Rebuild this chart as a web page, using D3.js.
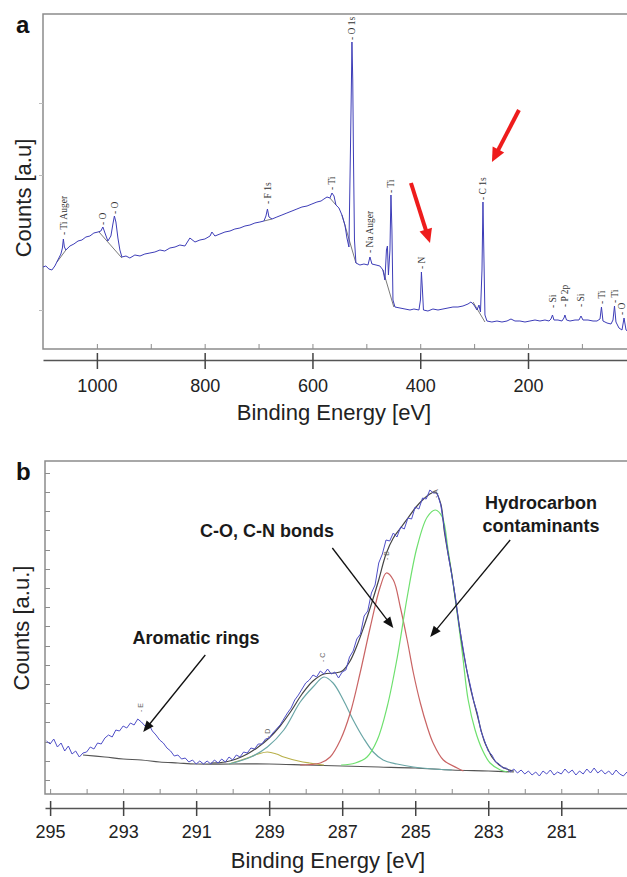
<!DOCTYPE html>
<html>
<head>
<meta charset="utf-8">
<script src="https://cdn.jsdelivr.net/npm/d3@7"></script>
<style>
  body { margin: 0; background: #fff; }
  svg { display: block; font-family: Arial, "Liberation Sans", sans-serif; }
</style>
</head>
<body>
<svg id="chart" width="627" height="877"></svg>
<script>
// ---- panel a : survey spectrum ----
const surveyE = [1100,1094.7,1089,1083.5,1078,1072.4,1066.8,1064,1062.2,1060.3,1057.5,1050,1042.7,1035,1027.8,1020.4,1013,1005.6,998,992.6,
  988.9,985,979.6,974,970.3,967.5,964.7,961,957.3,953.6,946,938.8,929.5,920,911,901.6,892.4,883,874,864.5,
  855,846,836.7,827.4,818,808.8,799.6,790,786.6,781,771.7,762.4,753,744,734.6,725.3,716,706.8,697.5,690,
  686.3,683.5,680.7,675,666,656.6,647.4,638,628.8,619.5,610,601,591.7,584,578.7,573,567.6,563.8,560,556.4,
  550.8,545.3,539.7,536,532.3,529.5,527.6,526.7,525.2,524,522,519.3,511.9,504.4,497,493.3,489.6,482,474.8,469.2,
  465.5,462.7,460.9,459,456.2,454.3,452.5,450.6,446.9,437.6,428.3,419,411.7,402.4,399.6,397.8,395.9,394,385.7,376.4,
  367,357.8,348.5,339.3,330,320.7,311.4,305.9,300.3,294.7,291,288.2,285.4,283.6,281.7,279.9,276.2,267,257.6,248.3,
  239,231.6,224.2,215,205.6,196.4,187,177.8,168.5,161,157.4,154.6,151.8,144.4,137,133.3,131.5,128.6,122.1,112.8,
  105.4,101.7,98,88.7,79.4,72,66.4,63.7,60.9,53.4,46,42.3,39.5,36.8,31.2,25.6,21.8,18.1,10.7];
const surveyC = [82,83,80,79,83,89,95,101,110,102,99,103,105,108,109,112,113,116,117,118,
  122,116,108,113,125,133,127,111,99,92,93,91,94,93,95,96,97,99,98,101,
  102,104,103,111,107,109,110,113,117,113,115,117,118,120,121,123,124,126,127,128,
  133,140,132,130,132,134,136,138,140,142,143,145,147,148,150,152,151,156,153,144,
  141,134,124,111,102,199,269,307,269,199,109,86,84,85,84,92,85,84,83,79,
  69,99,103,74,99,154,119,49,42,41,40,39,40,39,49,77,59,39,38,40,
  39,40,41,42,42,43,45,47,44,39,44,37,79,147,89,34,28,27,28,27,
  28,30,28,28,27,28,29,28,29,28,30,34,29,29,28,31,34,29,28,29,
  29,33,29,29,28,28,30,42,28,26,25,29,43,27,21,19,31,19,16];
// fitted background segments under the peaks
const surveyBg = [
  [[1074, 87], [1057.5, 99]],
  [[996, 117], [953.6, 91]],
  [[690, 128], [675, 130]],
  [[567.6, 151], [556.4, 144]],
  [[545.3, 134], [519.3, 86]],
  [[469.2, 79], [449, 42]],
  [[302, 47], [279.9, 27]]
];
const surveyPeaks = [
  { name: "Ti Auger", e: 1062.2, c: 114 },
  { name: "O", e: 988.9, c: 124 },
  { name: "O", e: 967.5, c: 135 },
  { name: "F 1s", e: 683.5, c: 145 },
  { name: "Ti", e: 563.8, c: 159 },
  { name: "O 1s", e: 526.7, c: 309 },
  { name: "Na Auger", e: 493.3, c: 96 },
  { name: "Ti", e: 454.3, c: 156 },
  { name: "N", e: 397.8, c: 80 },
  { name: "C 1s", e: 283.6, c: 149 },
  { name: "Si", e: 154.6, c: 41 },
  { name: "P 2p", e: 131.5, c: 42 },
  { name: "Si", e: 101.7, c: 42 },
  { name: "Ti", e: 63.7, c: 45 },
  { name: "Ti", e: 39.5, c: 46 },
  { name: "O", e: 27, c: 34 }
];
const surveyTicks = [1000, 800, 600, 400, 200];
const surveyMinorTicks = [1000, 900, 800, 700, 600, 500, 400, 300, 200, 100];
const surveyYTicks = [39, 174, 246];

// ---- panel b : C 1s high resolution ----
const c1sE = [295.1,295.0,294.9,294.8,294.7,294.6,294.5,294.4,294.3,294.2,
  294.1,294.0,293.9,293.8,293.7,293.6,293.5,293.4,293.3,293.2,
  293.1,293.0,292.9,292.8,292.7,292.6,292.5,292.4,292.3,292.2,
  292.1,292.0,291.9,291.8,291.7,291.6,291.5,291.4,291.3,291.2,
  291.1,291.0,290.9,290.8,290.7,290.6,290.5,290.4,290.3,290.2,
  290.1,290.0,289.9,289.8,289.7,289.6,289.5,289.4,289.3,289.2,
  289.1,289.0,288.9,288.8,288.7,288.6,288.5,288.4,288.3,288.2,
  288.1,288.0,287.9,287.8,287.7,287.6,287.5,287.4,287.3,287.2,
  287.1,287.0,286.9,286.8,286.7,286.6,286.5,286.4,286.3,286.2,
  286.1,286.0,285.9,285.8,285.7,285.6,285.5,285.4,285.3,285.2,
  285.1,285.0,284.9,284.8,284.7,284.6,284.5,284.4,284.3,284.2,
  284.1,284.0,283.9,283.8,283.7,283.6,283.5,283.4,283.3,283.2,
  283.1,283.0,282.9,282.8,282.7,282.6,282.5,282.4,282.3,282.2,
  282.1,282.0,281.9,281.8,281.7,281.6,281.5,281.4,281.3,281.2,
  281.1,281.0,280.9,280.8,280.7,280.6,280.5,280.4,280.3,280.2,
  280.1,280.0,279.9,279.8,279.7,279.6,279.5,279.4,279.3,279.2];
const c1sC = [53,50,55,47,51,43,48,40,43,37,
  41,42,47,45,51,50,56,59,57,64,
  63,68,66,71,69,75,72,68,70,63,
  59,54,51,46,43,38,39,35,36,32,
  34,30,33,30,33,30,34,31,35,32,
  37,34,39,37,42,41,46,45,50,50,
  55,56,61,65,69,75,81,86,94,99,
  105,111,114,119,117,123,120,125,120,122,
  116,122,124,137,143,155,160,178,183,201,
  209,231,240,254,253,261,257,267,265,276,
  275,287,285,296,295,304,301,301,289,265,
  240,219,197,169,148,126,110,93,81,63,
  53,43,39,32,30,26,26,22,25,21,
  24,20,23,19,22,18,23,20,24,19,
  22,20,25,21,24,19,23,20,25,21,
  26,21,24,20,23,19,24,20,18,22];
const backgroundE = [294.1,293.5,293.0,292.5,292.0,291.5,291.0,290.0,289.0,288.0,287.0,286.0,285.0,284.0,283.0,282.3];
const backgroundC = [39,37,35,34,32,31,30,30,30,29,28,27,26,24,23,22];
const envelopeE = [290.6,290.2,289.9,289.6,289.3,289.0,288.7,288.4,288.1,287.8,287.5,287.2,287.0,286.8,286.6,286.4,286.2,286.0,
  285.8,285.6,285.4,285.2,285.0,284.8,284.6,284.45,284.3,284.2,284.1,284.0,283.9,283.8,283.7,283.6,283.5,283.4,283.3,283.2,
  283.1,283.0,282.9,282.7,282.5,282.3];
const envelopeC = [31,32,35,40,47,56,68,83,100,113,120,121,123,132,148,168,190,214,
  240,256,266,276,286,294,300,302,290,262,240,220,195,170,146,126,108,93,79,64,
  52,44,37,29,25,23];
// component A : hydrocarbon (green)
const peakAE = [287.03,286.64,286.32,286.04,285.77,285.49,285.22,284.95,284.67,284.45,284.26,284.1,283.9,283.71,283.55,283.36,283.16,282.95,282.67,282.48];
const peakAC = [29,31,37,54,87,137,197,247,277,284,277,244,194,141,94,64,44,31,24,22];
// component B : C-O / C-N (red)
const peakBE = [288.15,287.6,287.33,287.05,286.78,286.51,286.23,285.96,285.79,285.6,285.41,285.22,285.05,284.86,284.67,284.51,284.23,283.85,283.68];
const peakBC = [29,31,37,54,81,121,167,207,221,214,187,154,121,91,67,51,34,26,23];
// component C (teal)
const peakCE = [290.1,289.5,289.05,288.6,288.15,287.8,287.5,287.25,286.97,286.7,286.42,286.15,285.88,285.5,285.05,284.5,284.0];
const peakCC = [30,37,47,64,92,107,117,111,94,74,56,42,34,30,27,25,24];
// component D (olive)
const peakDE = [290.1,289.6,289.3,289.05,288.8,288.6,288.2,287.9,287.5];
const peakDC = [30,36,40,42,40,37,33,31,29];
const peakLetters = [
  { t: "E", e: 292.53, c: 82 },
  { t: "D", e: 289.05, c: 56 },
  { t: "C", e: 287.55, c: 132 },
  { t: "B", e: 285.79, c: 234 },
  { t: "A", e: 284.45, c: 296 }
];
const c1sTicks = [295, 293, 291, 289, 287, 285, 283, 281];
const c1sMinorTicks = [295, 294, 293, 292, 291, 290, 289, 288, 287, 286, 285, 284, 283, 282, 281, 280];
const c1sYTicks = [14, 33, 52, 72, 91, 110, 129, 148, 168, 187, 206, 225, 244, 264, 283, 302, 321];

const svg = d3.select('#chart');
const frameColor = '#8c8c8c';
const textColor = '#222';

// draws an arrow with a filled triangular head
function arrow(g, p1, p2, color, width, headLen, headW) {
  const dx = p2[0] - p1[0], dy = p2[1] - p1[1];
  const len = Math.hypot(dx, dy), ux = dx / len, uy = dy / len;
  const bx = p2[0] - ux * headLen, by = p2[1] - uy * headLen;
  g.append('line')
    .attr('x1', p1[0]).attr('y1', p1[1])
    .attr('x2', bx + ux * 2).attr('y2', by + uy * 2)
    .attr('stroke', color).attr('stroke-width', width);
  g.append('path')
    .attr('d', `M${p2[0]},${p2[1]}L${bx - uy * headW / 2},${by + ux * headW / 2}L${bx + uy * headW / 2},${by - ux * headW / 2}Z`)
    .attr('fill', color);
}

// ================= panel a =================
const xa = d3.scaleLinear().domain([1100, 10]).range([43, 630.4]);
const ya = d3.scaleLinear().domain([0, 335]).range([349, 14]);
const ga = svg.append('g');

ga.append('path').attr('d', 'M627,14H43V349H627')
  .attr('fill', 'none').attr('stroke', frameColor).attr('stroke-width', 1.5);

// inward ticks on the frame bottom
const aMinor = ga.append('g').attr('transform', 'translate(0,349)')
  .call(d3.axisBottom(xa).tickValues(surveyMinorTicks).tickSize(-5).tickFormat(''));
aMinor.select('.domain').remove();
aMinor.selectAll('line').attr('stroke', frameColor);

const aLeft = ga.append('g').attr('transform', 'translate(43,0)')
  .call(d3.axisLeft(ya).tickValues(surveyYTicks).tickSize(4).tickFormat(''));
aLeft.select('.domain').remove();
aLeft.selectAll('line').attr('stroke', '#bbb');

// detached axis with labels
const aAxis = ga.append('g').attr('transform', 'translate(0,360)')
  .call(d3.axisBottom(xa).tickValues(surveyTicks).tickSize(9).tickSizeOuter(0).tickPadding(10).tickFormat(d3.format('d')));
aAxis.select('.domain').attr('stroke', '#555').attr('stroke-width', 1.5);
aAxis.selectAll('.tick line').attr('y1', -7).attr('stroke', '#444').attr('stroke-width', 1.5);
aAxis.selectAll('text').attr('font-size', 18).attr('fill', textColor).attr('font-family', 'Arial, "Liberation Sans", sans-serif');

const surveyPts = surveyE.map((e, i) => [e, surveyC[i]]);
const lineA = d3.line().x(d => xa(d[0])).y(d => ya(d[1]));

ga.selectAll('.bg').data(surveyBg).join('path')
  .attr('d', lineA).attr('fill', 'none').attr('stroke', '#7a7a7a').attr('stroke-width', 1);

ga.append('path').datum(surveyPts)
  .attr('d', lineA).attr('fill', 'none').attr('stroke', '#3d3db8').attr('stroke-width', 1);

ga.selectAll('.plabel').data(surveyPeaks).join('text')
  .attr('transform', d => `translate(${xa(d.e)},${ya(d.c)}) rotate(-90)`)
  .attr('dy', '0.35em')
  .attr('font-family', '"Liberation Serif", "DejaVu Serif", serif')
  .attr('font-size', 9.5).attr('fill', '#333')
  .text(d => '- ' + d.name);

ga.append('text').attr('x', 16).attr('y', 33)
  .attr('font-size', 24).attr('font-weight', 'bold').attr('fill', '#111').text('a');

ga.append('text')
  .attr('transform', 'translate(31,198) rotate(-90)')
  .attr('text-anchor', 'middle').attr('font-size', 22).attr('fill', textColor)
  .text('Counts [a.u]');

ga.append('text').attr('x', 334).attr('y', 420)
  .attr('text-anchor', 'middle').attr('font-size', 22).attr('fill', textColor)
  .text('Binding Energy [eV]');

arrow(ga, [xa(417.2), ya(166)], [xa(381.9), ya(106)], '#ee1c1c', 4, 14, 13);
arrow(ga, [xa(216.8), ya(239)], [xa(266.9), ya(187)], '#ee1c1c', 4, 14, 13);

// ================= panel b =================
const xb = d3.scaleLinear().domain([295.14, 279.2]).range([45, 627]);
const yb = d3.scaleLinear().domain([0, 333]).range([794, 461]);
const gb = svg.append('g');

gb.append('path').attr('d', 'M627,461H45V794H627')
  .attr('fill', 'none').attr('stroke', frameColor).attr('stroke-width', 1.5);

const bMinor = gb.append('g').attr('transform', 'translate(0,794)')
  .call(d3.axisBottom(xb).tickValues(c1sMinorTicks).tickSize(-5).tickFormat(''));
bMinor.select('.domain').remove();
bMinor.selectAll('line').attr('stroke', frameColor);

const bLeft = gb.append('g').attr('transform', 'translate(45,0)')
  .call(d3.axisLeft(yb).tickValues(c1sYTicks).tickSize(-5).tickFormat(''));
bLeft.select('.domain').remove();
bLeft.selectAll('line').attr('stroke', frameColor);

const bAxis = gb.append('g').attr('transform', 'translate(0,808)')
  .call(d3.axisBottom(xb).tickValues(c1sTicks).tickSize(8).tickSizeOuter(0).tickPadding(9).tickFormat(d3.format('d')));
bAxis.select('.domain').attr('stroke', '#555').attr('stroke-width', 1.5);
bAxis.selectAll('.tick line').attr('y1', -7).attr('stroke', '#444').attr('stroke-width', 1.5);
bAxis.selectAll('text').attr('font-size', 18).attr('fill', textColor).attr('font-family', 'Arial, "Liberation Sans", sans-serif');

const lineB = d3.line().x(d => xb(d[0])).y(d => yb(d[1]));
const smoothB = d3.line().x(d => xb(d[0])).y(d => yb(d[1])).curve(d3.curveCatmullRom.alpha(0.5));
const pairs = (es, cs) => es.map((e, i) => [e, cs[i]]);

gb.append('path').datum(pairs(backgroundE, backgroundC))
  .attr('d', smoothB).attr('fill', 'none').attr('stroke', '#555').attr('stroke-width', 1.2);

const components = [
  { e: peakDE, c: peakDC, color: '#b8b04a' },
  { e: peakCE, c: peakCC, color: '#6aa6a6' },
  { e: peakBE, c: peakBC, color: '#c96464' },
  { e: peakAE, c: peakAC, color: '#6ee06e' }
];
gb.selectAll('.comp').data(components).join('path')
  .attr('d', d => smoothB(pairs(d.e, d.c)))
  .attr('fill', 'none').attr('stroke', d => d.color).attr('stroke-width', 1.2);

gb.append('path').datum(pairs(envelopeE, envelopeC))
  .attr('d', smoothB).attr('fill', 'none').attr('stroke', '#444').attr('stroke-width', 1.2);

gb.append('path').datum(pairs(c1sE, c1sC))
  .attr('d', lineB).attr('fill', 'none').attr('stroke', '#4f4fc8').attr('stroke-width', 1);

gb.selectAll('.letter').data(peakLetters).join('text')
  .attr('transform', d => `translate(${xb(d.e)},${yb(d.c)}) rotate(-90)`)
  .attr('dy', '0.35em')
  .attr('font-size', 7).attr('fill', '#666')
  .text(d => '- ' + d.t);

gb.append('text').attr('x', 16).attr('y', 480)
  .attr('font-size', 24).attr('font-weight', 'bold').attr('fill', '#111').text('b');

gb.append('text')
  .attr('transform', 'translate(29,628) rotate(-90)')
  .attr('text-anchor', 'middle').attr('font-size', 22).attr('fill', textColor)
  .text('Counts [a.u.]');

gb.append('text').attr('x', 328).attr('y', 868)
  .attr('text-anchor', 'middle').attr('font-size', 22).attr('fill', textColor)
  .text('Binding Energy [eV]');

// annotations
const note = gb.append('g').attr('font-size', 18).attr('font-weight', 'bold').attr('fill', '#1a1a1a').attr('text-anchor', 'middle');
note.append('text').attr('x', 196).attr('y', 644).text('Aromatic rings');
note.append('text').attr('x', 267).attr('y', 537).text('C-O, C-N bonds');
note.append('text').attr('x', 541).attr('y', 509).text('Hydrocarbon');
note.append('text').attr('x', 541).attr('y', 532).text('contaminants');

arrow(gb, [xb(290.75), yb(139)], [xb(292.45), yb(62)], '#111', 1.3, 11, 9);
arrow(gb, [xb(287.27), yb(246)], [xb(285.6), yb(166)], '#111', 1.3, 11, 9);
arrow(gb, [xb(282.4), yb(254)], [xb(284.59), yb(157)], '#111', 1.3, 11, 9);
</script>
</body>
</html>
